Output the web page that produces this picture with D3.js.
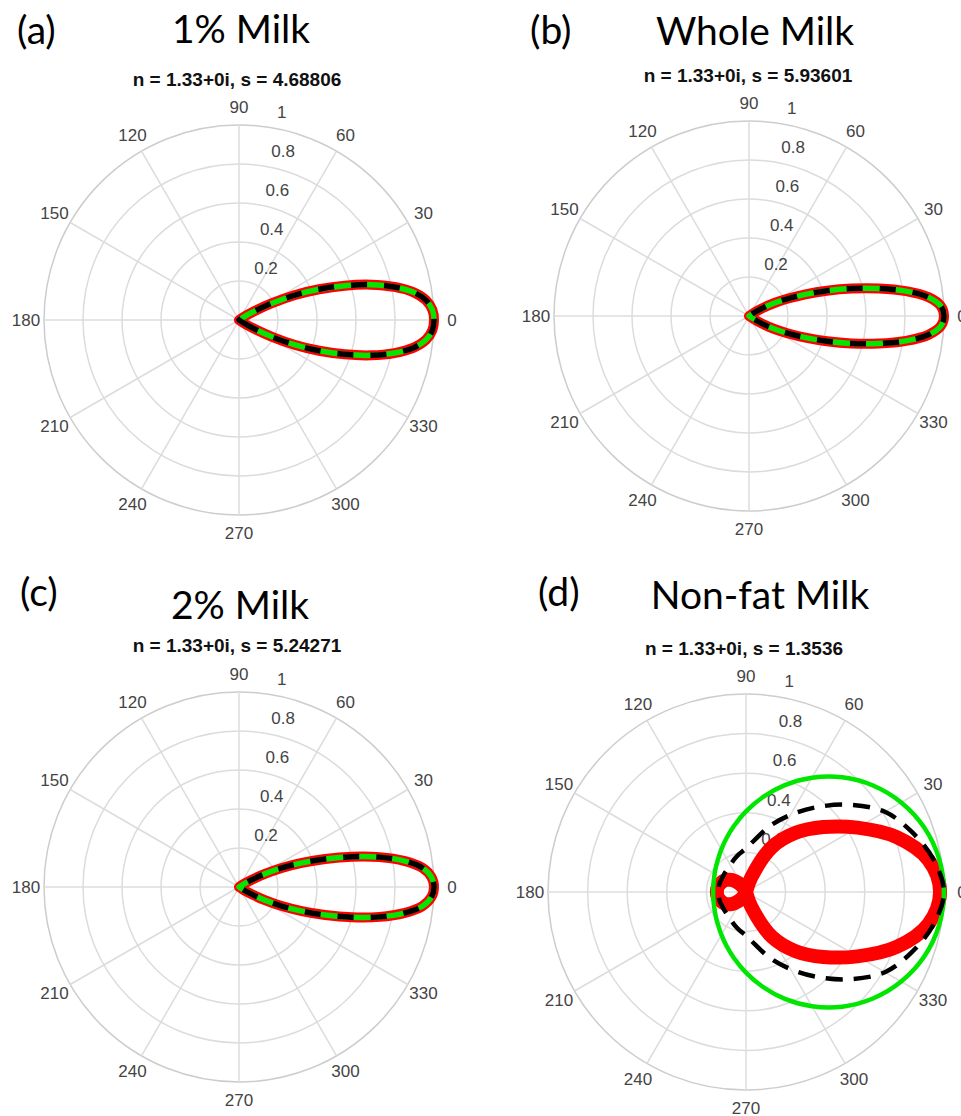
<!DOCTYPE html>
<html>
<head>
<meta charset="utf-8">
<script src="https://cdn.jsdelivr.net/npm/d3@7"></script>
<style>
  html, body { margin: 0; padding: 0; background: #fff; }
  svg { display: block; }
</style>
</head>
<body>
<svg id="chart" width="961" height="1116"></svg>
<script>
// Polar axis ticks
const angleTicks = [0, 30, 60, 90, 120, 150, 180, 210, 240, 270, 300, 330];
const radialTicks = [0.2, 0.4, 0.6, 0.8, 1];

// Panel text
const panelLetters = ["(a)", "(b)", "(c)", "(d)"];
const panelTitles = ["1% Milk", "Whole Milk", "2% Milk", "Non-fat Milk"];
const refractiveIndex = "1.33+0i";
const sizeParams = ["4.68806", "5.93601", "5.24271", "1.3536"];

// Forward lobes: scattering angle (deg) and normalised intensity
const lobeAngles = [324, 327, 330, 333, 336, 339, 342, 345, 348, 351, 354, 357,
                    0, 3, 6, 9, 12, 15, 18, 21, 24, 27, 30, 33, 36];
const lobe1pct  = [0, 0.03, 0.09, 0.19, 0.315, 0.44, 0.57, 0.70, 0.815, 0.907, 0.965, 0.993,
                   1.00, 0.993, 0.965, 0.907, 0.815, 0.70, 0.57, 0.44, 0.315, 0.19, 0.09, 0.03, 0];
const lobeWhole = [0, 0.035, 0.085, 0.15, 0.22, 0.31, 0.42, 0.545, 0.68, 0.815, 0.925, 0.985,
                   1.00, 0.985, 0.925, 0.815, 0.68, 0.545, 0.42, 0.31, 0.22, 0.15, 0.085, 0.035, 0];
const lobe2pct  = [0, 0.025, 0.07, 0.145, 0.24, 0.345, 0.465, 0.60, 0.737, 0.857, 0.945, 0.988,
                   1.00, 0.988, 0.945, 0.857, 0.737, 0.60, 0.465, 0.345, 0.24, 0.145, 0.07, 0.025, 0];

// Non-fat milk: full circle, 10 degree steps
const nonfatAngles = [0, 10, 20, 30, 40, 50, 60, 70, 80, 90, 100, 110, 120, 130, 140, 150, 160, 170,
                      180, 190, 200, 210, 220, 230, 240, 250, 260, 270, 280, 290, 300, 310, 320, 330, 340, 350];
const nonfatRed   = [0.98, 0.935, 0.81, 0.65, 0.51, 0.39, 0.26, 0.08, 0, 0, 0, 0, 0.025, 0.06, 0.095, 0.12, 0.135, 0.145,
                     0.147, 0.145, 0.135, 0.12, 0.095, 0.06, 0.025, 0, 0, 0, 0, 0.08, 0.26, 0.39, 0.51, 0.65, 0.81, 0.935];
const nonfatGreen = [1.0, 0.989, 0.957, 0.905, 0.837, 0.756, 0.666, 0.574, 0.486, 0.407, 0.341, 0.289, 0.249, 0.219, 0.198, 0.183, 0.173, 0.168,
                     0.166, 0.168, 0.173, 0.183, 0.198, 0.219, 0.249, 0.289, 0.341, 0.407, 0.486, 0.574, 0.666, 0.756, 0.837, 0.905, 0.957, 0.989];
const nonfatBlack = [1.0, 0.96, 0.89, 0.81, 0.685, 0.56, 0.45, 0.355, 0.27, 0.22, 0.195, 0.175, 0.158, 0.148, 0.143, 0.14, 0.14, 0.14,
                     0.14, 0.14, 0.14, 0.14, 0.143, 0.148, 0.158, 0.175, 0.195, 0.22, 0.27, 0.355, 0.45, 0.56, 0.685, 0.81, 0.89, 0.96];

// Trace styles
const lobeStyle = {
  red:   { color: "#ff0000", width: 10, dash: null },
  green: { color: "#00e600", width: 5.5, dash: null },
  black: { color: "#000000", width: 5.5, dash: "16,17" }
};
const nonfatStyle = {
  red:   { color: "#ff0000", width: 14, dash: null },
  green: { color: "#00e600", width: 4.5, dash: null },
  black: { color: "#000000", width: 4.5, dash: "17,11" }
};

const panels = [
  { cx: 239, cy: 320, R: 195, letterX: 17, letterY: 44, titleX: 241, titleY: 43, subX: 237, subY: 86,
    traces: [["red", lobeAngles, lobe1pct], ["green", lobeAngles, lobe1pct], ["black", lobeAngles, lobe1pct]], style: lobeStyle },
  { cx: 749, cy: 316, R: 195, letterX: 530, letterY: 44, titleX: 755, titleY: 45, subX: 748, subY: 82,
    traces: [["red", lobeAngles, lobeWhole], ["green", lobeAngles, lobeWhole], ["black", lobeAngles, lobeWhole]], style: lobeStyle },
  { cx: 239, cy: 887, R: 195, letterX: 20, letterY: 606, titleX: 240, titleY: 619, subX: 237, subY: 652,
    traces: [["red", lobeAngles, lobe2pct], ["green", lobeAngles, lobe2pct], ["black", lobeAngles, lobe2pct]], style: lobeStyle },
  { cx: 746, cy: 892, R: 198, letterX: 538, letterY: 606, titleX: 760, titleY: 609, subX: 744, subY: 655,
    traces: [["red", nonfatAngles, nonfatRed], ["green", nonfatAngles, nonfatGreen], ["black", nonfatAngles, nonfatBlack]], style: nonfatStyle }
];

const svg = d3.select("#chart");
const tickFont = "'Liberation Sans', Arial, sans-serif";
const titleFont = "Lato, 'Open Sans', sans-serif";

// degrees counter-clockwise from east -> d3 radial angle (clockwise from north)
const angle = d3.scaleLinear().domain([0, 360]).range([Math.PI / 2, Math.PI / 2 - 2 * Math.PI]);

panels.forEach((p, i) => {
  const r = d3.scaleLinear().domain([0, 1]).range([0, p.R]);

  // Headings
  svg.append("text").attr("x", p.letterX).attr("y", p.letterY)
    .attr("font-family", titleFont).attr("font-size", 39).attr("fill", "#000")
    .text(panelLetters[i]);
  svg.append("text").attr("x", p.titleX).attr("y", p.titleY).attr("text-anchor", "middle")
    .attr("font-family", titleFont).attr("font-size", 39).attr("fill", "#000")
    .text(panelTitles[i]);
  svg.append("text").attr("x", p.subX).attr("y", p.subY).attr("text-anchor", "middle")
    .attr("font-family", tickFont).attr("font-size", 19).attr("font-weight", "bold").attr("fill", "#111")
    .text(`n = ${refractiveIndex}, s = ${sizeParams[i]}`);

  const g = svg.append("g").attr("transform", `translate(${p.cx},${p.cy})`);

  // Grid circles
  g.selectAll("circle.grid").data(radialTicks).join("circle")
    .attr("class", "grid").attr("r", d => r(d)).attr("fill", "none")
    .attr("stroke", d => d === 1 ? "#cdcdcd" : "#dcdcdc").attr("stroke-width", 1.5);

  // Spokes
  g.selectAll("line.spoke").data(angleTicks).join("line")
    .attr("class", "spoke")
    .attr("x1", 0).attr("y1", 0)
    .attr("x2", d => r(1) * Math.sin(angle(d)))
    .attr("y2", d => -r(1) * Math.cos(angle(d)))
    .attr("stroke", "#dcdcdc").attr("stroke-width", 1.5);

  // Angular tick labels
  g.selectAll("text.atick").data(angleTicks).join("text")
    .attr("class", "atick")
    .attr("x", d => (r(1) + 18) * Math.sin(angle(d)))
    .attr("y", d => -(r(1) + 18) * Math.cos(angle(d)))
    .attr("text-anchor", "middle").attr("dominant-baseline", "central")
    .attr("font-family", tickFont).attr("font-size", 17).attr("fill", "#444")
    .text(d => d);

  // Radial tick labels
  g.selectAll("text.rtick").data(radialTicks).join("text")
    .attr("class", "rtick")
    .attr("x", d => 9.5 + 0.146 * r(d))
    .attr("y", d => -r(d) - 7)
    .attr("font-family", tickFont).attr("font-size", 17).attr("fill", "#444")
    .text(d => d3.format("~g")(d));

  // Traces
  const line = d3.lineRadial()
    .angle(d => angle(d[0]))
    .radius(d => r(d[1]))
    .curve(d3.curveCatmullRomClosed.alpha(0.5));

  p.traces.forEach(([key, thetas, values]) => {
    const st = p.style[key];
    g.append("path")
      .datum(thetas.map((t, k) => [t, values[k]]))
      .attr("d", line)
      .attr("fill", "none")
      .attr("stroke", st.color)
      .attr("stroke-width", st.width)
      .attr("stroke-linejoin", "round")
      .attr("stroke-dasharray", st.dash);
  });
});
</script>
</body>
</html>
